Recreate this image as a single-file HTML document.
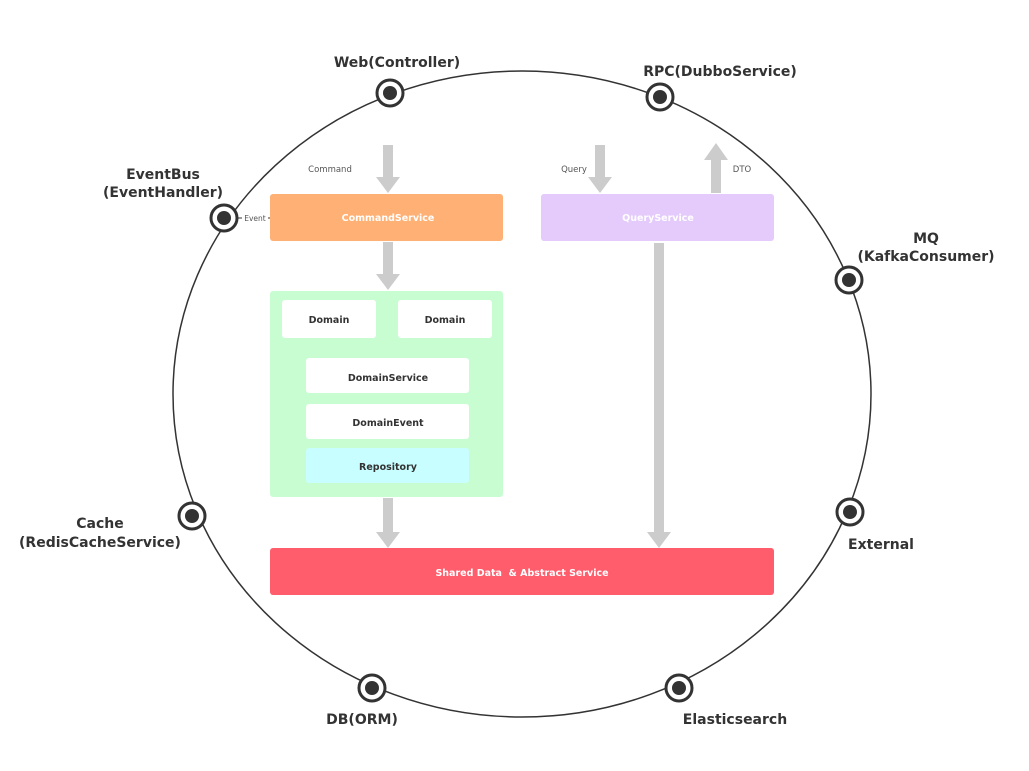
<!DOCTYPE html>
<html><head><meta charset="utf-8"><style>
html,body{margin:0;padding:0;background:#fff;width:1029px;height:771px;overflow:hidden}
svg text{font-family:"DejaVu Sans","Liberation Sans",sans-serif}
</style></head><body>
<svg width="1029" height="771" viewBox="0 0 1029 771" xmlns="http://www.w3.org/2000/svg">
<ellipse cx="522" cy="394" rx="349" ry="323" fill="none" stroke="#333" stroke-width="1.5"/>
<g fill="#cccccc">
<rect x="383" y="145" width="10" height="34"/><polygon points="376,177 400,177 388,193"/>
<rect x="383" y="242" width="10" height="34"/><polygon points="376,274 400,274 388,290"/>
<rect x="383" y="498" width="10" height="35"/><polygon points="376,532 400,532 388,548"/>
<rect x="595" y="145" width="10" height="34"/><polygon points="588,177 612,177 600,193"/>
<rect x="711" y="159" width="10" height="34"/><polygon points="704,160 728,160 716,143"/>
<rect x="654" y="243" width="10" height="290"/><polygon points="647,532 671,532 659,548"/>
</g>
<g font-size="8.5" fill="#555">
<text x="330" y="172" text-anchor="middle">Command</text>
<text x="574" y="172" text-anchor="middle">Query</text>
<text x="742" y="172" text-anchor="middle">DTO</text>
</g>
<line x1="238" y1="218" x2="270" y2="218" stroke="#333" stroke-width="1"/>
<rect x="242" y="210" width="26" height="14" fill="#fff"/>
<text x="255" y="221" text-anchor="middle" font-size="7.5" fill="#555">Event</text>
<rect x="270" y="194" width="233" height="47" rx="3" fill="#ffb074"/>
<rect x="541" y="194" width="233" height="47" rx="3" fill="#e4cbfb"/>
<rect x="270" y="291" width="233" height="206" rx="3" fill="#c8fdd2"/>
<rect x="282" y="300" width="94" height="38" rx="3" fill="#fff"/>
<rect x="398" y="300" width="94" height="38" rx="3" fill="#fff"/>
<rect x="306" y="358" width="163" height="35" rx="3" fill="#fff"/>
<rect x="306" y="404" width="163" height="35" rx="3" fill="#fff"/>
<rect x="306" y="448" width="163" height="35" rx="3" fill="#c8feff"/>
<rect x="270" y="548" width="504" height="47" rx="3" fill="#ff5c6c"/>
<g font-size="9.5" font-weight="bold" text-anchor="middle">
<text x="388" y="221" fill="#fff">CommandService</text>
<text x="658" y="221" fill="#fff">QueryService</text>
<text x="329" y="323" fill="#333">Domain</text>
<text x="445" y="323" fill="#333">Domain</text>
<text x="388" y="381" fill="#333">DomainService</text>
<text x="388" y="426" fill="#333">DomainEvent</text>
<text x="388" y="470" fill="#333">Repository</text>
<text x="522" y="576" fill="#fff" xml:space="preserve">Shared Data  &amp; Abstract Service</text>
</g>
<g fill="#fff" stroke="#333" stroke-width="3">
<circle cx="390" cy="93" r="13"/><circle cx="660" cy="97" r="13"/>
<circle cx="224" cy="218" r="13"/><circle cx="849" cy="280" r="13"/>
<circle cx="192" cy="516" r="13"/><circle cx="850" cy="512" r="13"/>
<circle cx="372" cy="688" r="13"/><circle cx="679" cy="688" r="13"/>
</g>
<g fill="#333">
<circle cx="390" cy="93" r="7"/><circle cx="660" cy="97" r="7"/>
<circle cx="224" cy="218" r="7"/><circle cx="849" cy="280" r="7"/>
<circle cx="192" cy="516" r="7"/><circle cx="850" cy="512" r="7"/>
<circle cx="372" cy="688" r="7"/><circle cx="679" cy="688" r="7"/>
</g>
<g font-size="14" font-weight="bold" fill="#333" text-anchor="middle">
<text x="397" y="67">Web(Controller)</text>
<text x="720" y="76">RPC(DubboService)</text>
<text x="163" y="179">EventBus</text>
<text x="163" y="197">(EventHandler)</text>
<text x="926" y="243">MQ</text>
<text x="926" y="261">(KafkaConsumer)</text>
<text x="100" y="528">Cache</text>
<text x="100" y="547">(RedisCacheService)</text>
<text x="881" y="549">External</text>
<text x="362" y="724">DB(ORM)</text>
<text x="735" y="724">Elasticsearch</text>
</g>
</svg>
</body></html>
